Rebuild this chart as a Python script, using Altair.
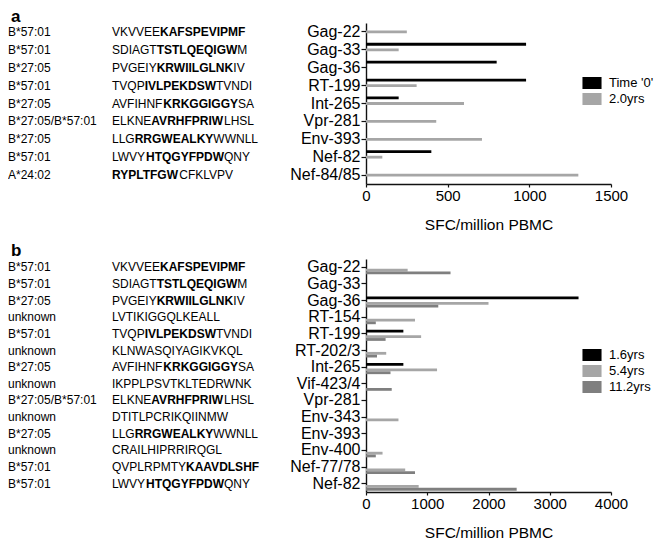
import altair as alt
import pandas as pd

FONT = "Liberation Sans"

# ---------------- Panel a data ----------------
a_cats = ["Gag-22", "Gag-33", "Gag-36", "RT-199", "Int-265", "Vpr-281", "Env-393", "Nef-82", "Nef-84/85"]
a_hla = ["B*57:01", "B*57:01", "B*27:05", "B*57:01", "B*27:05", "B*27:05/B*57:01", "B*27:05", "B*57:01", "A*24:02"]
a_pre = ["VKVVEE", "SDIAGT", "PVGEIY", "TVQP", "AVFIHNF", "ELKNE", "LLG", "LWVY", ""]
a_bold = ["KAFSPEVIPMF", "TSTLQEQIGW", "KRWIILGLNK", "IVLPEKDSW", "KRKGGIGGY", "AVRHFPRIW", "RRGWEALKY", "HTQGYFPDW", "RYPLTFGW"]
a_suf = ["", "M", "IV", "TVNDI", "SA", "LHSL", "WWNLL", "QNY", "CFKLVPV"]
a_series = ["Time '0'", "2.0yrs"]
a_time0 = [0, 980, 800, 980, 200, 0, 0, 400, 0]
a_2yrs = [250, 200, 0, 310, 600, 430, 710, 100, 1300]
a_ticks = [0, 500, 1000, 1500]

# ---------------- Panel b data ----------------
b_cats = ["Gag-22", "Gag-33", "Gag-36", "RT-154", "RT-199", "RT-202/3", "Int-265", "Vif-423/4",
          "Vpr-281", "Env-343", "Env-393", "Env-400", "Nef-77/78", "Nef-82"]
b_hla = ["B*57:01", "B*57:01", "B*27:05", "unknown", "B*57:01", "unknown", "B*27:05", "unknown",
         "B*27:05/B*57:01", "unknown", "B*27:05", "unknown", "B*57:01", "B*57:01"]
b_pre = ["VKVVEE", "SDIAGT", "PVGEIY", "LVTIKIGGQLKEALL", "TVQP", "KLNWASQIYAGIKVKQL", "AVFIHNF",
         "IKPPLPSVTKLTEDRWNK", "ELKNE", "DTITLPCRIKQIINMW", "LLG", "CRAILHIPRRIRQGL", "QVPLRPMTY", "LWVY"]
b_bold = ["KAFSPEVIPMF", "TSTLQEQIGW", "KRWIILGLNK", "", "IVLPEKDSW", "", "KRKGGIGGY", "",
          "AVRHFPRIW", "", "RRGWEALKY", "", "KAAVDLSHF", "HTQGYFPDW"]
b_suf = ["", "M", "IV", "", "TVNDI", "", "SA", "", "LHSL", "", "WWNLL", "", "", "QNY"]
b_series = ["1.6yrs", "5.4yrs", "11.2yrs"]
b_16 = [0, 0, 3470, 0, 610, 0, 610, 0, 0, 0, 0, 0, 0, 0]
b_54 = [680, 0, 2000, 800, 900, 330, 1160, 0, 0, 530, 0, 270, 640, 860]
b_112 = [1380, 0, 1180, 160, 320, 180, 400, 420, 0, 0, 0, 160, 800, 2460]
b_ticks = [0, 1000, 2000, 3000, 4000]

# Arial / Liberation Sans advance widths (per 1000 em) for uppercase letters
REG = dict(zip("ABCDEFGHIJKLMNOPQRSTUVWXYZ",
               [667, 667, 722, 722, 667, 611, 778, 722, 278, 500, 667, 556, 833, 722, 778, 667, 778, 722, 667, 611, 722, 667, 944, 667, 667, 611]))
BLD = dict(zip("ABCDEFGHIJKLMNOPQRSTUVWXYZ",
               [722, 722, 722, 722, 667, 611, 778, 722, 278, 556, 722, 611, 833, 722, 778, 667, 778, 722, 667, 611, 722, 667, 944, 667, 667, 611]))
PEP_FS = 12
W = 245


def tw(s, table):
    return sum(table.get(c, 600) for c in s) / 1000.0 * PEP_FS


HLA_X = -358
PEP_X = -254


def panel(letter, cats, hla, pre, bold, suf, series, values, colors, xmax, ticks, height, legend_y, pad):
    k = xmax / W  # pixel -> data units on the shared x scale

    rows = []
    for s, vals in zip(series, values):
        for c, v in zip(cats, vals):
            rows.append({"cat": c, "series": s, "value": v})
    bars_df = pd.DataFrame(rows)

    txt_rows = []
    for c, h, p, b, s in zip(cats, hla, pre, bold, suf):
        bx = PEP_X + tw(p, REG)
        sx = bx + tw(b, BLD)
        txt_rows.append({"cat": c, "hla": h, "pre": p, "bold": b, "suf": s,
                         "hx": HLA_X * k, "px": PEP_X * k, "bx": bx * k, "sx": sx * k})
    txt_df = pd.DataFrame(txt_rows)

    xscale = alt.Scale(domain=[0, xmax], nice=False, zero=True)
    xaxis = alt.Axis(values=ticks, title="SFC/million PBMC", grid=False,
                     tickSize=3, labelPadding=1, labelFontSize=15, titleFontSize=15.5,
                     titleFontWeight="normal", titlePadding=14, labelFlush=False,
                     labelColor="black", titleColor="black", tickColor="#111111",
                     domainColor="#111111", domainWidth=1.4, tickWidth=1.2, format="d")
    yscale = alt.Scale(paddingInner=pad, paddingOuter=pad / 2)
    yaxis = alt.Axis(title=None, labelFontSize=16, tickSize=5, labelPadding=1,
                     labelColor="black", tickColor="#111111", domainColor="#111111",
                     domainWidth=1.4, tickWidth=1.2, grid=False)

    bars = alt.Chart(bars_df).mark_bar(strokeWidth=0).encode(
        x=alt.X("value:Q", scale=xscale, axis=xaxis),
        y=alt.Y("cat:N", sort=cats, scale=yscale, axis=yaxis),
        yOffset=alt.YOffset("series:N", sort=series, scale=alt.Scale(paddingInner=0, paddingOuter=0)),
        color=alt.Color("series:N", sort=series,
                        scale=alt.Scale(domain=series, range=colors),
                        legend=alt.Legend(title=None, orient="none", legendX=217, legendY=legend_y,
                                          symbolType="M-1.06,-0.67H1.06V0.67H-1.06Z", symbolSize=324,
                                          symbolStrokeWidth=0, symbolOpacity=1, labelFontSize=13,
                                          labelOffset=8, rowPadding=0, padding=0, labelColor="black",
                                          labelFont=FONT)),
    )

    def txt(field, xfield, weight="normal"):
        return alt.Chart(txt_df).mark_text(align="left", baseline="middle", fontSize=PEP_FS,
                                           fontWeight=weight, color="black", font=FONT).encode(
            x=alt.X(f"{xfield}:Q", scale=xscale, axis=xaxis),
            y=alt.Y("cat:N", sort=cats, scale=yscale, axis=yaxis),
            text=alt.Text(f"{field}:N"),
        )

    lab = alt.Chart(pd.DataFrame({"t": [letter]})).mark_text(
        align="left", baseline="alphabetic", fontSize=17, fontWeight="bold", color="black", font=FONT
    ).encode(x=alt.value(-355), y=alt.value(-1 if letter == "a" else -3), text="t:N")

    return alt.layer(bars, txt("hla", "hx"), txt("pre", "px"), txt("bold", "bx", "bold"),
                     txt("suf", "sx"), lab).properties(width=W, height=height)


pa = panel("a", a_cats, a_hla, a_pre, a_bold, a_suf, a_series, [a_time0, a_2yrs],
           ["#000000", "#a6a6a6"], 1500, a_ticks, 161, 51, 0.22)
pb = panel("b", b_cats, b_hla, b_pre, b_bold, b_suf, b_series, [b_16, b_54, b_112],
           ["#000000", "#a6a6a6", "#7f7f7f"], 4000, b_ticks, 233, 87, 0.16)

chart = alt.vconcat(pa, pb, spacing=9, padding=0).resolve_scale(color="independent").configure(
    font=FONT
).configure_view(stroke=None)

chart.save("out.html", embed_options={"renderer": "svg", "actions": False})
